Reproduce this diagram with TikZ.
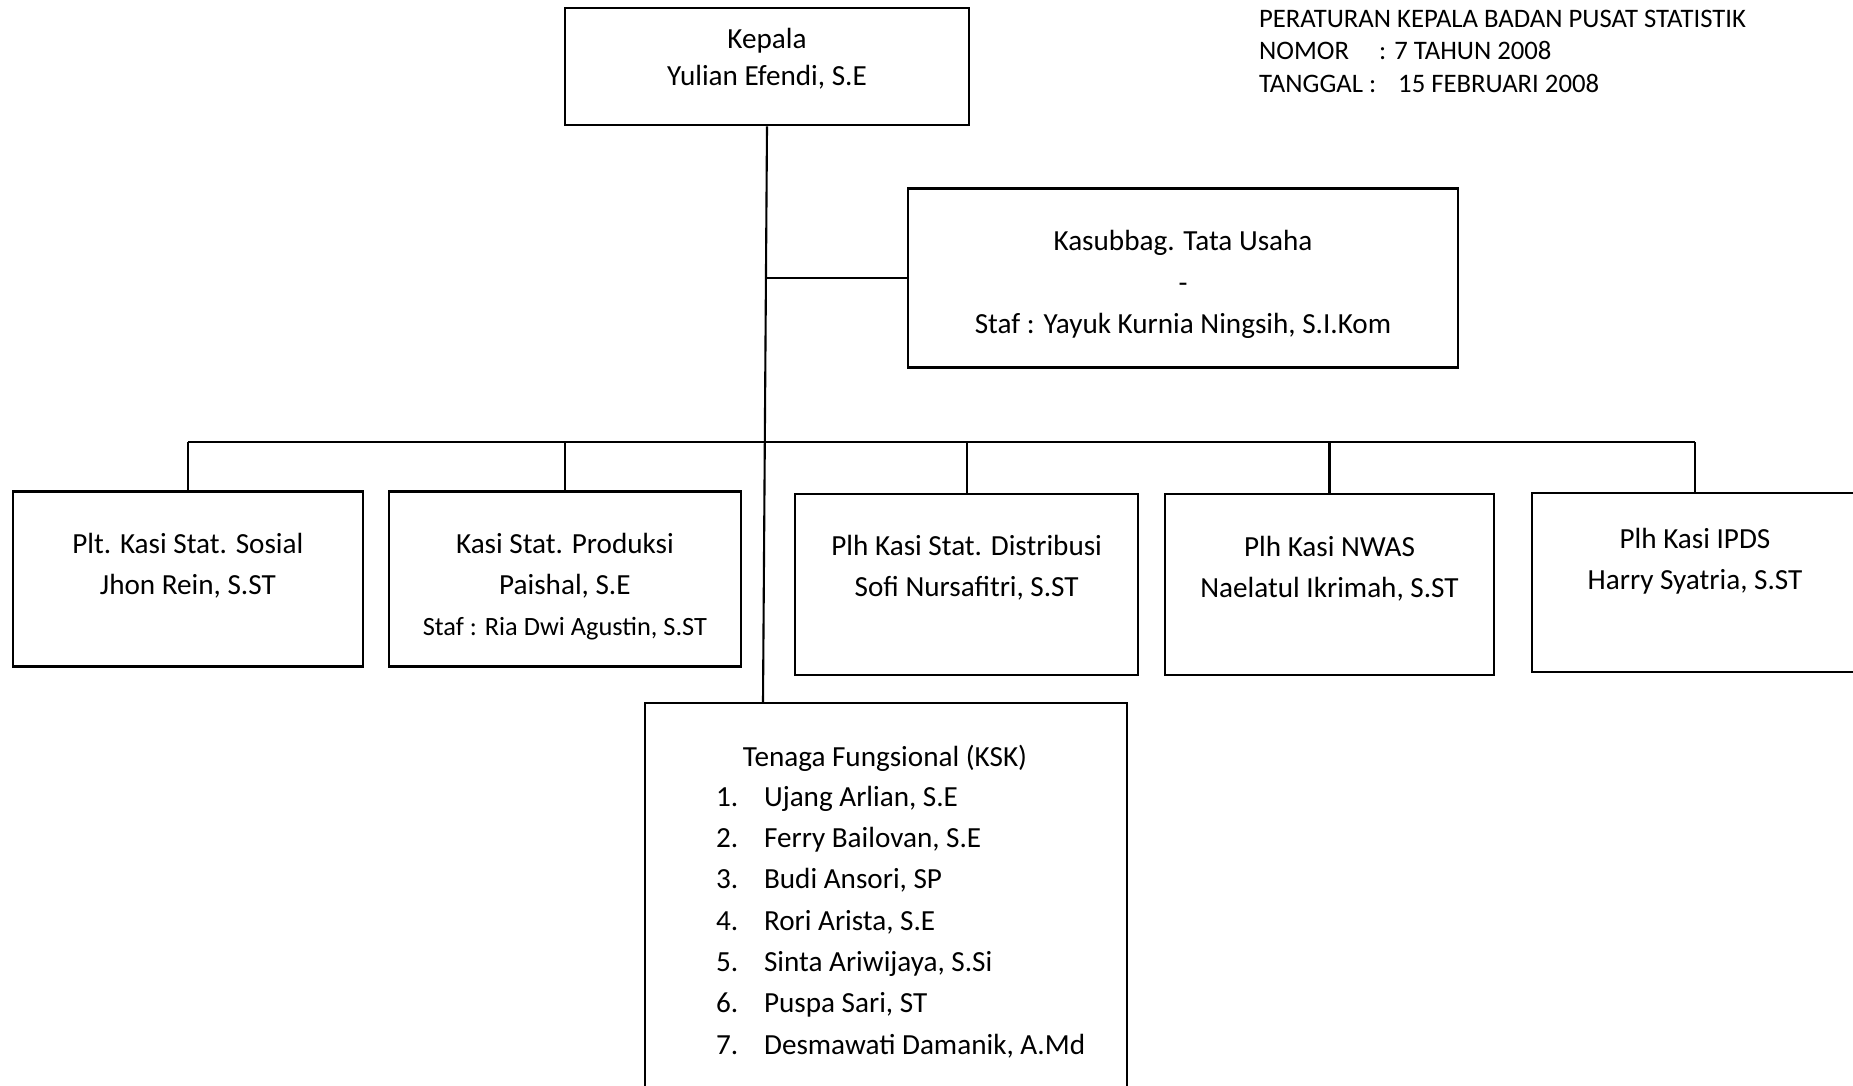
\documentclass[tikz,border=0pt]{standalone}
\usepackage{fontspec}
\setmainfont{Carlito}
\usetikzlibrary{positioning}
\newcommand{\garis}{0.6pt}

\begin{document}
\begin{tikzpicture}[
		line width=\garis,
		box/.style = {draw,rectangle,inner sep=0pt},
		txt/.style = {align=center,inner sep=0pt,font=\fontsize{8.3}{11.7}\selectfont},
		kecil/.style = {inner sep=0pt,font=\fontsize{7.6}{9.2}\selectfont}
		]

	\useasboundingbox (0,0) rectangle (18.53,-10.85);
	\clip (0,0) rectangle (18.53,-10.85);

	% kepala
	\node[box,minimum width=4.04cm,minimum height=1.17cm] (kepala) at (7.67,-0.668) {};
	\node[txt,font=\fontsize{8.3}{10.5}\selectfont] (kepalaT) at (7.67,-0.585) {Kepala\\Yulian Efendi, S.E};

	% keterangan
	\node[kecil,anchor=base west] (perka1) at (12.58,-0.27) {PERATURAN KEPALA BADAN PUSAT STATISTIK};
	\node[kecil,anchor=base west] (perka2) at (12.58,-0.595) {\makebox[1.20cm][l]{NOMOR}: 7 TAHUN 2008};
	\node[kecil,anchor=base west] (perka3) at (12.58,-0.92) {\makebox[1.10cm][l]{TANGGAL}:\hspace{0.22cm}15 FEBRUARI 2008};

	% tata usaha
	\node[box,minimum width=5.50cm,minimum height=1.79cm] (tu) at (11.83,-2.78) {};
	\node[txt,font=\fontsize{8.3}{11.8}\selectfont] (tuT) at (11.83,-2.845) {Kasubbag. Tata Usaha\\-\\Staf : Yayuk Kurnia Ningsih, S.I.Kom};

	% seksi
	\node[box,minimum width=3.50cm,minimum height=1.75cm] (sosial) at (1.879,-5.79) {};
	\node[txt] (sosialT) at (1.879,-5.66) {Plt. Kasi Stat. Sosial\\Jhon Rein, S.ST};

	\node[box,minimum width=3.52cm,minimum height=1.75cm] (produksi) at (5.649,-5.79) {};
	\node[txt] (produksiT) at (5.649,-5.865) {Kasi Stat. Produksi\\Paishal, S.E\\{\fontsize{7.5}{9.2}\selectfont Staf : Ria Dwi Agustin, S.ST}};

	\node[box,minimum width=3.43cm,minimum height=1.81cm] (distribusi) at (9.667,-5.844) {};
	\node[txt] (distribusiT) at (9.667,-5.68) {Plh Kasi Stat. Distribusi\\Sofi Nursafitri, S.ST};

	\node[box,minimum width=3.29cm,minimum height=1.81cm] (nwas) at (13.295,-5.844) {};
	\node[txt] (nwasT) at (13.295,-5.69) {Plh Kasi NWAS\\Naelatul Ikrimah, S.ST};

	\node[box,minimum width=3.26cm,minimum height=1.79cm] (ipds) at (16.95,-5.825) {};
	\node[txt] (ipdsT) at (16.95,-5.615) {Plh Kasi IPDS\\Harry Syatria, S.ST};

	% fungsional
	\node[box,minimum width=4.82cm,minimum height=4.2cm] (ksk) at (8.86,-9.13) {};
	\node[txt] (kskT) at (8.85,-7.58) {Tenaga Fungsional (KSK)};
	\foreach \nama [count=\i] in {{Ujang Arlian, S.E},{Ferry Bailovan, S.E},{Budi Ansori, SP},{Rori Arista, S.E},{Sinta Ariwijaya, S.Si},{Puspa Sari, ST},{Desmawati Damanik, A.Md}} {
		\node[txt,anchor=base west] (no\i) at (7.15,-7.65-0.413*\i) {\i.};
		\node[txt,anchor=base west] (nama\i) at (7.63,-7.65-0.413*\i) {\nama};
	}

	% garis
	\coordinate (bus) at (0,-4.42);
	\draw (kepala.south) -- ([xshift=-0.04cm]kepala.south |- ksk.north);
	\draw ([xshift=-0.01cm]kepala.south |- tu.west) -- (tu.west);
	\draw (sosial.north |- bus) -- (ipds.north |- bus);
	\foreach \s in {sosial,produksi,distribusi,nwas,ipds}
		\draw (\s.north) -- (\s.north |- bus);
\end{tikzpicture}
\end{document}
